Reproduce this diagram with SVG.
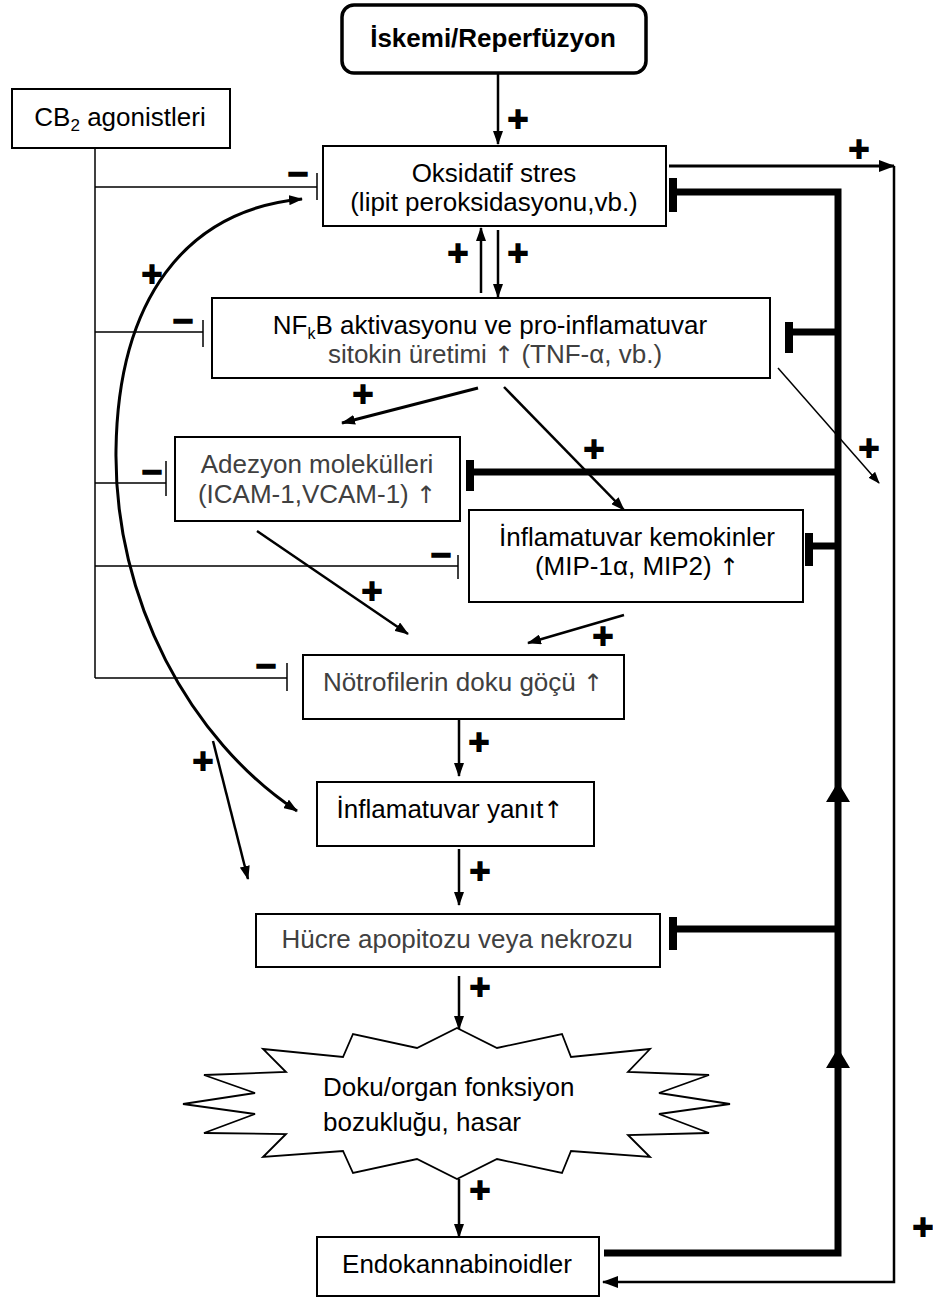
<svg xmlns="http://www.w3.org/2000/svg" width="933" height="1298" viewBox="0 0 933 1298">
<defs>
<style>
.box{fill:#fff;stroke:#000;stroke-width:2}
.t{font-family:"Liberation Sans",Arial,sans-serif;font-size:26px;text-anchor:middle;fill:#000}
.g{fill:#404040}
.ar{font-family:"DejaVu Sans",sans-serif;font-size:24px}
.sg{font-family:"DejaVu Sans",sans-serif;font-weight:bold;font-size:28px;text-anchor:middle;fill:#000;stroke:#000;stroke-width:1.8}
.ln{fill:none;stroke:#000;stroke-width:2.5}
.thin{fill:none;stroke:#000;stroke-width:1.5}
.thick{fill:none;stroke:#000;stroke-width:7}
.bar{fill:none;stroke:#000;stroke-width:8}
</style>
<marker id="ah" viewBox="0 0 14 10" refX="13" refY="5" markerWidth="14" markerHeight="10" markerUnits="userSpaceOnUse" orient="auto-start-reverse"><path d="M0,0 L14,5 L0,10 z" fill="#000"/></marker>
<marker id="ahs" viewBox="0 0 12 9" refX="11" refY="4.5" markerWidth="12" markerHeight="9" markerUnits="userSpaceOnUse" orient="auto"><path d="M0,0 L12,4.5 L0,9 z" fill="#000"/></marker>
<marker id="ahl" viewBox="0 0 16 12" refX="15" refY="6" markerWidth="16" markerHeight="12" markerUnits="userSpaceOnUse" orient="auto"><path d="M0,0 L16,6 L0,12 z" fill="#000"/></marker>
</defs>
<rect width="933" height="1298" fill="#fff"/>

<g id="connectors">
<path class="ln" d="M498,73 V144" marker-end="url(#ah)"/>
<path class="thin" d="M95,148 V678"/>
<path class="thin" d="M95,187 H317 M317,173 V200"/>
<path class="thin" d="M95,332 H203 M203,320 V347"/>
<path class="thin" d="M95,483 H166 M166,461 V496"/>
<path class="thin" d="M95,566 H458 M458,555 V579"/>
<path class="thin" d="M95,678 H287 M287,663 V691"/>
<path class="ln" d="M481,293 V228" marker-end="url(#ah)"/>
<path class="ln" d="M498,230 V297" marker-end="url(#ah)"/>
<path class="ln" style="stroke-width:3" d="M669,166 H894" marker-end="url(#ahl)"/>
<path class="ln" d="M894,166 V1282 H603" marker-end="url(#ahl)"/>
<path class="thick" d="M604,1253 H838 V192 H673"/>
<path class="bar" d="M673,178 V212"/>
<path class="thick" d="M838,332 H789"/>
<path class="bar" d="M789,322 V353"/>
<path class="thick" d="M838,472 H470"/>
<path class="bar" d="M470,460 V491"/>
<path class="thick" d="M838,546 H809"/>
<path class="bar" d="M809,533 V566"/>
<path class="thick" d="M838,929 H673"/>
<path class="bar" d="M673,917 V950"/>
<polygon points="838,782 850,802 826,802" fill="#000"/>
<polygon points="838,1048 850,1068 826,1068" fill="#000"/>
<path class="thin" d="M778,368 L879,483" marker-end="url(#ahs)"/>
<path class="ln" style="stroke-width:3" d="M478,388 L342,423" marker-end="url(#ah)"/>
<path class="ln" d="M504,387 L624,510" marker-end="url(#ah)"/>
<path class="ln" d="M257,531 L408,634" marker-end="url(#ah)"/>
<path class="ln" d="M624,615 L528,643" marker-end="url(#ah)"/>
<path class="ln" d="M459,719 V776" marker-end="url(#ah)"/>
<path class="ln" d="M459,849 V905" marker-end="url(#ah)"/>
<path class="ln" d="M459,976 V1029" marker-end="url(#ah)"/>
<path class="ln" d="M459,1179 V1237" marker-end="url(#ah)"/>
<path class="ln" style="stroke-width:3" d="M302,199 C185,210 118,300 116,450 C114,600 190,740 297,811" marker-start="url(#ah)" marker-end="url(#ah)"/>
<path class="ln" d="M213,741 L248,879" marker-end="url(#ah)"/>
<g id="signs">
<text class="sg" x="518" y="128">+</text>
<text class="sg" x="859" y="158">+</text>
<text class="sg" x="458" y="262">+</text>
<text class="sg" x="518" y="262">+</text>
<text class="sg" x="152" y="283">+</text>
<text class="sg" x="363" y="403">+</text>
<text class="sg" x="594" y="458">+</text>
<text class="sg" x="869" y="457">+</text>
<text class="sg" x="372" y="600">+</text>
<text class="sg" x="603" y="645">+</text>
<text class="sg" x="479" y="751">+</text>
<text class="sg" x="203" y="770">+</text>
<text class="sg" x="480" y="880">+</text>
<text class="sg" x="480" y="996">+</text>
<text class="sg" x="480" y="1199">+</text>
<text class="sg" x="923" y="1236">+</text>
<text class="sg" x="298" y="183">−</text>
<text class="sg" x="183" y="330">−</text>
<text class="sg" x="152" y="481">−</text>
<text class="sg" x="441" y="564">−</text>
<text class="sg" x="266" y="675">−</text>
</g>
</g>

<g id="iskemi">
<rect x="342" y="5" width="304" height="68" rx="12" fill="#fff" stroke="#000" stroke-width="3.5"/>
<text class="t" x="493" y="47" font-weight="bold">İskemi/Reperfüzyon</text>
</g>
<g id="cb2">
<rect class="box" x="12" y="89" width="218" height="59"/>
<text class="t" x="120" y="126">CB<tspan font-size="17" dy="5">2</tspan><tspan dy="-5"> agonistleri</tspan></text>
</g>
<g id="oksidatif">
<rect class="box" x="323" y="146" width="343" height="80"/>
<text class="t" x="494" y="182">Oksidatif stres</text>
<text class="t" x="494" y="211">(lipit peroksidasyonu,vb.)</text>
</g>
<g id="nfkb">
<rect class="box" x="212" y="298" width="558" height="80"/>
<text class="t" x="490" y="334">NF<tspan font-size="16" dy="5">k</tspan><tspan dy="-5">B aktivasyonu ve pro-inflamatuvar</tspan></text>
<text class="t g" x="495" y="363">sitokin üretimi <tspan class="ar">↑</tspan> (TNF-α, vb.)</text>
</g>
<g id="adezyon">
<rect class="box" x="175" y="437" width="285" height="84"/>
<text class="t g" x="317" y="473">Adezyon molekülleri</text>
<text class="t g" x="317" y="503">(ICAM-1,VCAM-1) <tspan class="ar">↑</tspan></text>
</g>
<g id="kemokin">
<rect class="box" x="469" y="510" width="334" height="92"/>
<text class="t" x="637" y="546">İnflamatuvar kemokinler</text>
<text class="t" x="637" y="575">(MIP-1α, MIP2) <tspan class="ar">↑</tspan></text>
</g>
<g id="notrofil">
<rect class="box" x="303" y="655" width="321" height="64"/>
<text class="t g" x="463" y="691">Nötrofilerin doku göçü <tspan class="ar">↑</tspan></text>
</g>
<g id="yanit">
<rect class="box" x="317" y="782" width="277" height="64"/>
<text class="t" x="450" y="818">İnflamatuvar yanıt<tspan class="ar">↑</tspan></text>
</g>
<g id="hucre">
<rect class="box" x="256" y="914" width="404" height="53"/>
<text class="t g" x="457" y="948">Hücre apopitozu veya nekrozu</text>
</g>
<g id="hasar">
<polygon fill="#fff" stroke="#000" stroke-width="1.8" points="457,1028 497,1048 562,1034 571,1057 650,1049 628,1072 709,1075 659,1093 730,1104 659,1114 709,1133 628,1135 650,1157 571,1151 562,1173 497,1159 457,1179 417,1159 353,1173 343,1151 263,1157 286,1134 204,1133 255,1114 183,1104 255,1093 204,1075 286,1072 263,1049 343,1057 353,1034 417,1048"/>
<text class="t" x="323" y="1096" style="text-anchor:start">Doku/organ fonksiyon</text>
<text class="t" x="323" y="1131" style="text-anchor:start">bozukluğu, hasar</text>
</g>
<g id="endo">
<rect class="box" x="317" y="1237" width="282" height="59"/>
<text class="t" x="457" y="1273">Endokannabinoidler</text>
</g>
</svg>
